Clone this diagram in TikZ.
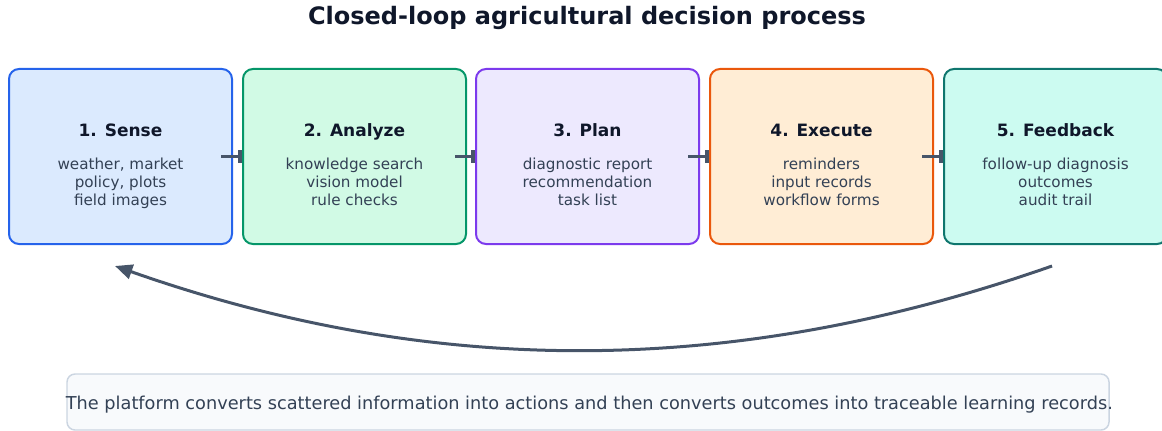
\documentclass[tikz,border=0pt]{standalone}
\usepackage{fontspec}
\setmainfont{DejaVu Sans}
\usepackage{tikz}
\usetikzlibrary{arrows.meta, positioning}
\definecolor{ink}{HTML}{0F172A}
\definecolor{slate}{HTML}{334155}
\definecolor{arrowgray}{HTML}{475569}
\definecolor{stepfill1}{HTML}{DBEAFE}
\definecolor{stepdraw1}{HTML}{2563EB}
\definecolor{stepfill2}{HTML}{D1FAE5}
\definecolor{stepdraw2}{HTML}{059669}
\definecolor{stepfill3}{HTML}{EDE9FE}
\definecolor{stepdraw3}{HTML}{7C3AED}
\definecolor{stepfill4}{HTML}{FFEDD5}
\definecolor{stepdraw4}{HTML}{EA580C}
\definecolor{stepfill5}{HTML}{CCFBF1}
\definecolor{stepdraw5}{HTML}{0F766E}
\definecolor{notefill}{HTML}{F8FAFC}
\definecolor{notedraw}{HTML}{CBD5E1}
\tikzset{%
  stepblock/.style={rectangle, draw, line width=1.5pt, rounded corners=7.5pt, minimum width=167.25pt, minimum height=131.25pt},
  steptext/.style={align=center, text=slate, font=\fontsize{11.4pt}{13.5pt}\selectfont},
  noteblock/.style={rectangle, draw=notedraw, fill=notefill, line width=1.1pt, rounded corners=6pt, minimum width=781.5pt, minimum height=42pt},
  line/.style={draw, line width=2.25pt, arrowgray, -{Rectangle[length=3pt, width=9pt]}},
  bigarrow/.style={draw, line width=2.25pt, arrowgray, -{Triangle[length=13pt, width=11pt]}}}

\begin{document}
\begin{tikzpicture}[x=0.75pt, y=-0.75pt]
  \useasboundingbox (0,0) rectangle (1162,431);
  \node [text=ink, font=\fontsize{18pt}{21pt}\selectfont\bfseries] (title) at (587,18) {Closed-loop agricultural decision process};
  \foreach \i/\x/\name/\linea/\lineb/\linec in {%
      1/120.5/Sense/{weather, market}/{policy, plots}/{field images},
      2/354.5/Analyze/{knowledge search}/{vision model}/{rule checks},
      3/587.5/Plan/{diagnostic report}/{recommendation}/{task list},
      4/821.5/Execute/{reminders}/{input records}/{workflow forms},
      5/1055.5/Feedback/{follow-up diagnosis}/{outcomes}/{audit trail}} {
    \node [stepblock, fill=stepfill\i, draw=stepdraw\i] (box\i) at (\x,156.5) {};
    \node [steptext] (text\i) at ([yshift=-7.4pt]box\i.center)
      {{\fontsize{12.75pt}{15pt}\selectfont\bfseries\color{ink}\strut\i. \name}\\[11.25pt]
       \linea\\ \lineb\\ \linec\strut};
  }
  % step connectors
  \foreach \i/\j in {1/2, 2/3, 3/4, 4/5}
    \draw [line] ([xshift=-9pt]box\i.east) -- (box\j.west);
  % feedback loop
  \coordinate (loopstart) at ([xshift=-2.6pt, yshift=-15.75pt]box5.south);
  \coordinate (loopend) at ([xshift=-4.1pt, yshift=-15.75pt]box1.south);
  \draw [bigarrow] (loopstart) .. controls +(-319,112) and +(318,112) .. (loopend);
  \node [noteblock] (note) at (588,402) {};
  \node [text=slate, font=\fontsize{13.3pt}{15.5pt}\selectfont] (notetext) at ([xshift=1pt, yshift=-2pt]note.center)
    {The platform converts scattered information into actions and then converts outcomes into traceable learning records.};
\end{tikzpicture}
\end{document}
